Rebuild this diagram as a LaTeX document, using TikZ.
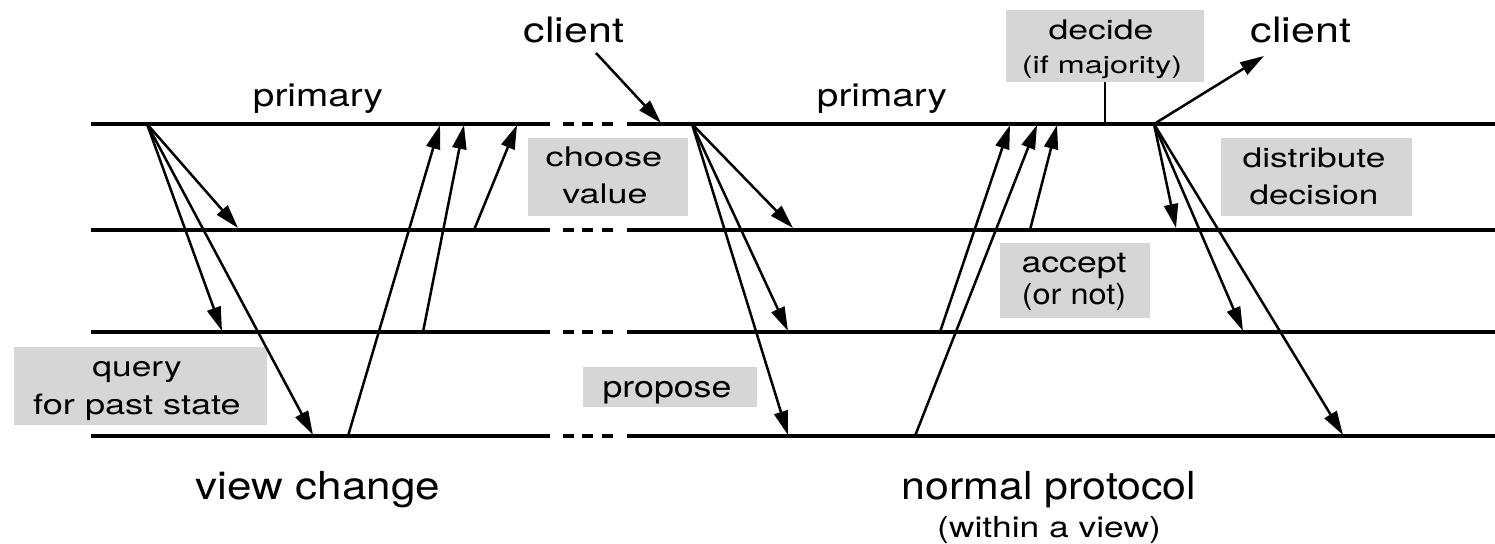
\documentclass[tikz,border=0pt]{standalone}
\usepackage{fontspec}
\setmainfont{TeX Gyre Heros}
\usepackage{graphicx}
\usetikzlibrary{arrows.meta}

\definecolor{notegray}{RGB}{214,214,214}

% size (pt), horizontal stretch, text
\newcommand\lbl[3]{\fontsize{#1}{#1}\selectfont\scalebox{#2}[1]{#3}}

\begin{document}
\begin{tikzpicture}[x=0.5pt,y=-0.5pt,
  timeline/.style={line width=1.8pt},
  msg/.style={line width=1.25pt, -{Triangle[length=12pt,width=7pt]}},
  ticker/.style={line width=1.1pt},
  note/.style={fill=notegray, draw=none, inner sep=0pt},
  lab/.style={inner sep=0pt, anchor=base}]

\useasboundingbox (0,0) rectangle (1495,544);

% shaded notes
\node[note, minimum width=80pt,   minimum height=39pt]   (choosebox) at (608,177)    {};
\node[note, minimum width=99pt,   minimum height=36pt]   (decidebox) at (1105,46)    {};
\node[note, minimum width=95.5pt, minimum height=39pt]   (distbox)   at (1316.5,177) {};
\node[note, minimum width=75pt,   minimum height=37.5pt] (acceptbox) at (1075,280.5) {};
\node[note, minimum width=126.5pt,minimum height=39pt]   (querybox)  at (140.5,386)  {};
\node[note, minimum width=87pt,   minimum height=20pt]   (proposebox) at (670,387)   {};

% process timelines: view change part, three-dash gap, normal protocol part
\foreach \y in {124,230,332,436} {
  \draw[timeline] (91,\y) -- (550,\y);
  \foreach \x in {563,582,602}
    \draw[timeline] (\x,\y) -- ++(11,0);
  \draw[timeline] (627,\y) -- (1495,\y);
}

% message end points
\coordinate (p1) at (147,124);
\coordinate (q1) at (238,228);
\coordinate (q2) at (222,331);
\coordinate (q3) at (313,435);
\coordinate (r1) at (348,436);
\coordinate (r2) at (423,332);
\coordinate (r3) at (474,230);
\coordinate (s1) at (440,125);
\coordinate (s2) at (464,125);
\coordinate (s3) at (517,125);

\coordinate (cl) at (596,53);
\coordinate (ct) at (661,123);
\coordinate (p2) at (692,124);
\coordinate (t1) at (793,228);
\coordinate (t2) at (788,331);
\coordinate (t3) at (788,435);

\coordinate (u1) at (915,436);
\coordinate (u2) at (940,332);
\coordinate (u3) at (1030,230);
\coordinate (v1) at (1037,125);
\coordinate (v2) at (1010,125);
\coordinate (v3) at (1057,125);

\coordinate (dk) at (1105,124);
\coordinate (p3) at (1154,124);
\coordinate (cr) at (1264,56);
\coordinate (w1) at (1176,228);
\coordinate (w2) at (1243,331);
\coordinate (w3) at (1343,435);

% view change
\draw[msg] (p1) -- (q1);
\draw[msg] (p1) -- (q2);
\draw[msg] (p1) -- (q3);
\draw[msg] (r1) -- (s1);
\draw[msg] (r2) -- (s2);
\draw[msg] (r3) -- (s3);

% normal protocol
\draw[msg] (cl) -- (ct);
\draw[msg] (p2) -- (t1);
\draw[msg] (p2) -- (t2);
\draw[msg] (p2) -- (t3);
\draw[msg] (u1) -- (v1);
\draw[msg] (u2) -- (v2);
\draw[msg] (u3) -- (v3);
\draw[ticker] (decidebox.south) -- (dk);
\draw[msg] (p3) -- (cr);
\draw[msg] (p3) -- (w1);
\draw[msg] (p3) -- (w2);
\draw[msg] (p3) -- (w3);

% labels
\node[lab] (clientL) at (574,43)  {\lbl{17.5}{1.23}{client}};
\node[lab] (clientR) at (1301,43) {\lbl{17.5}{1.23}{client}};
\node[lab] (primL)   at (318,107) {\lbl{16}{1.21}{primary}};
\node[lab] (primR)   at (882,107) {\lbl{16}{1.21}{primary}};

\node[lab] (decide)  at (1101,40) {\lbl{13.5}{1.32}{decide}};
\node[lab] (ifmaj)   at (1102,74) {\lbl{12}{1.35}{(if majority)}};
\node[lab] (choose)  at (604,167) {\lbl{13.5}{1.34}{choose}};
\node[lab] (value)   at (605,204) {\lbl{13.5}{1.33}{value}};
\node[lab] (distr)   at (1314,168) {\lbl{13.5}{1.31}{distribute}};
\node[lab] (decis)   at (1314,205) {\lbl{13.5}{1.30}{decision}};
\node[lab] (accept)  at (1074,273) {\lbl{14.5}{1.23}{accept}};
\node[lab] (ornot)   at (1074,305) {\lbl{14.5}{1.12}{(or not)}};
\node[lab] (query)   at (137,377) {\lbl{14}{1.26}{query}};
\node[lab] (past)    at (137,415) {\lbl{14}{1.29}{for past state}};
\node[lab] (propose) at (667,398) {\lbl{15}{1.19}{propose}};

\node[lab] (vchange) at (318,500)  {\lbl{19.3}{1.14}{view change}};
\node[lab] (normal)  at (1049,500) {\lbl{19.3}{1.11}{normal protocol}};
\node[lab] (within)  at (1049,538) {\lbl{14.5}{1.22}{(within a view)}};
\end{tikzpicture}
\end{document}
